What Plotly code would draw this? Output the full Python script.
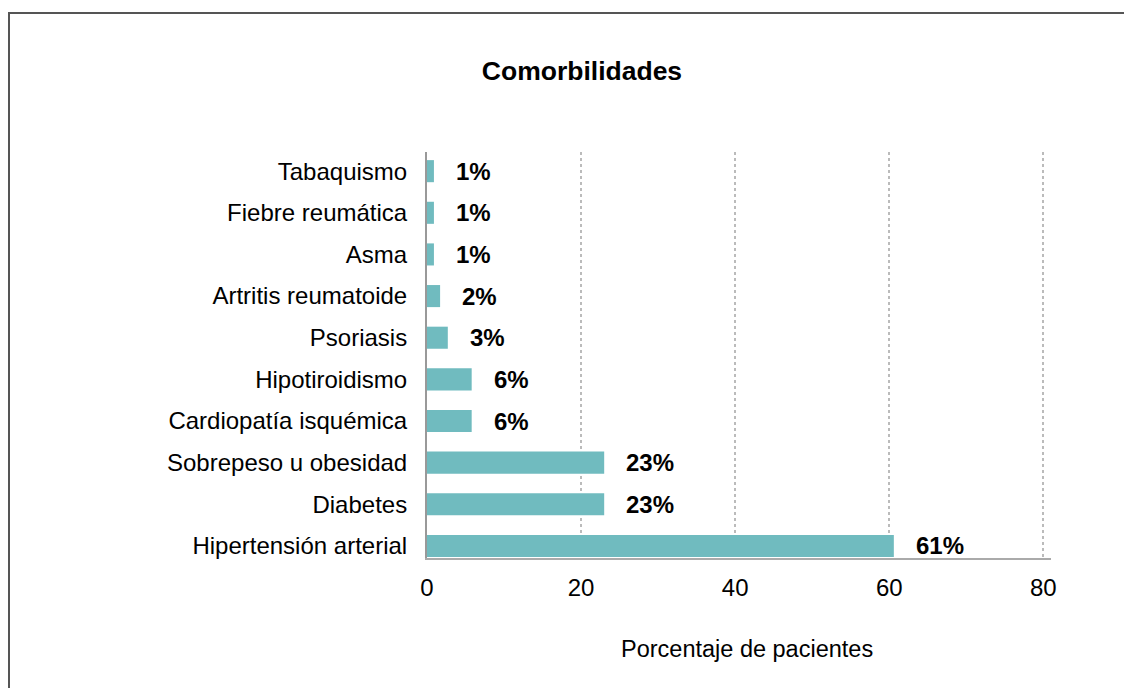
import plotly.graph_objects as go

categories = ["Hipertensión arterial", "Diabetes", "Sobrepeso u obesidad",
              "Cardiopatía isquémica", "Hipotiroidismo", "Psoriasis",
              "Artritis reumatoide", "Asma", "Fiebre reumática", "Tabaquismo"]
values = [60.6, 23.0, 23.0, 5.8, 5.8, 2.7, 1.7, 0.9, 0.9, 0.9]
labels = ["61%", "23%", "23%", "6%", "6%", "3%", "2%", "1%", "1%", "1%"]
x_ticks = [0, 20, 40, 60, 80]
x_title = "Porcentaje de pacientes"
chart_title = "Comorbilidades"

FONT = "Liberation Sans, Arial, Helvetica, sans-serif"
BAR = "#70BBBF"

W, H = 1116, 680
L, R, T, B = 419, 73, 144, 130
PW = W - L - R
PH = H - T - B

fig = go.Figure()
fig.add_trace(go.Bar(
    y=categories, x=values, orientation="h",
    marker=dict(color=BAR, line=dict(width=0)),
    width=0.53, hoverinfo="skip", showlegend=False,
))

for c, v, t in zip(categories, values, labels):
    fig.add_annotation(x=v, y=c, text="<b>%s</b>" % t, showarrow=False,
                       xanchor="left", yanchor="middle", xshift=20,
                       font=dict(family=FONT, size=24, color="#000"))

# x-axis title (placed slightly right of plot centre, as in the original)
fig.add_annotation(text=x_title, xref="paper", yref="paper",
                   x=(739 - L) / PW, y=-(641 - (T + PH)) / PH,
                   xanchor="center", yanchor="middle", showarrow=False,
                   font=dict(family=FONT, size=23.5, color="#000"))

fig.update_layout(
    width=W, height=H,
    margin=dict(l=L, r=R, t=T, b=B),
    paper_bgcolor="white", plot_bgcolor="white",
    font=dict(family=FONT, size=24, color="#000"),
    title=dict(text="<b>%s</b>" % chart_title, x=574 / W, xanchor="center",
               xref="container", yref="container", y=1 - 63 / H,
               yanchor="middle", font=dict(family=FONT, size=26.5, color="#000")),
    xaxis=dict(range=[0, 81], tickvals=x_ticks, showgrid=True,
               gridcolor="#bbbbbb", griddash="dot", gridwidth=1.5,
               showline=True, linecolor="#aaaaaa", linewidth=2,
               zeroline=False, ticks="outside", ticklen=7,
               tickcolor="rgba(0,0,0,0)", fixedrange=True),
    yaxis=dict(range=[-0.29, 9.46], showgrid=False, showline=True,
               linecolor="#999999", linewidth=2, zeroline=False,
               ticks="outside", ticklen=13, tickcolor="rgba(0,0,0,0)",
               fixedrange=True),
    shapes=[dict(type="rect", xref="paper", yref="paper",
                 x0=(1 - L) / PW, x1=2.0, y0=-2.0, y1=(T + PH - 5) / PH,
                 line=dict(color="#555555", width=2), layer="above")],
)

fig.write_html("out.html")
